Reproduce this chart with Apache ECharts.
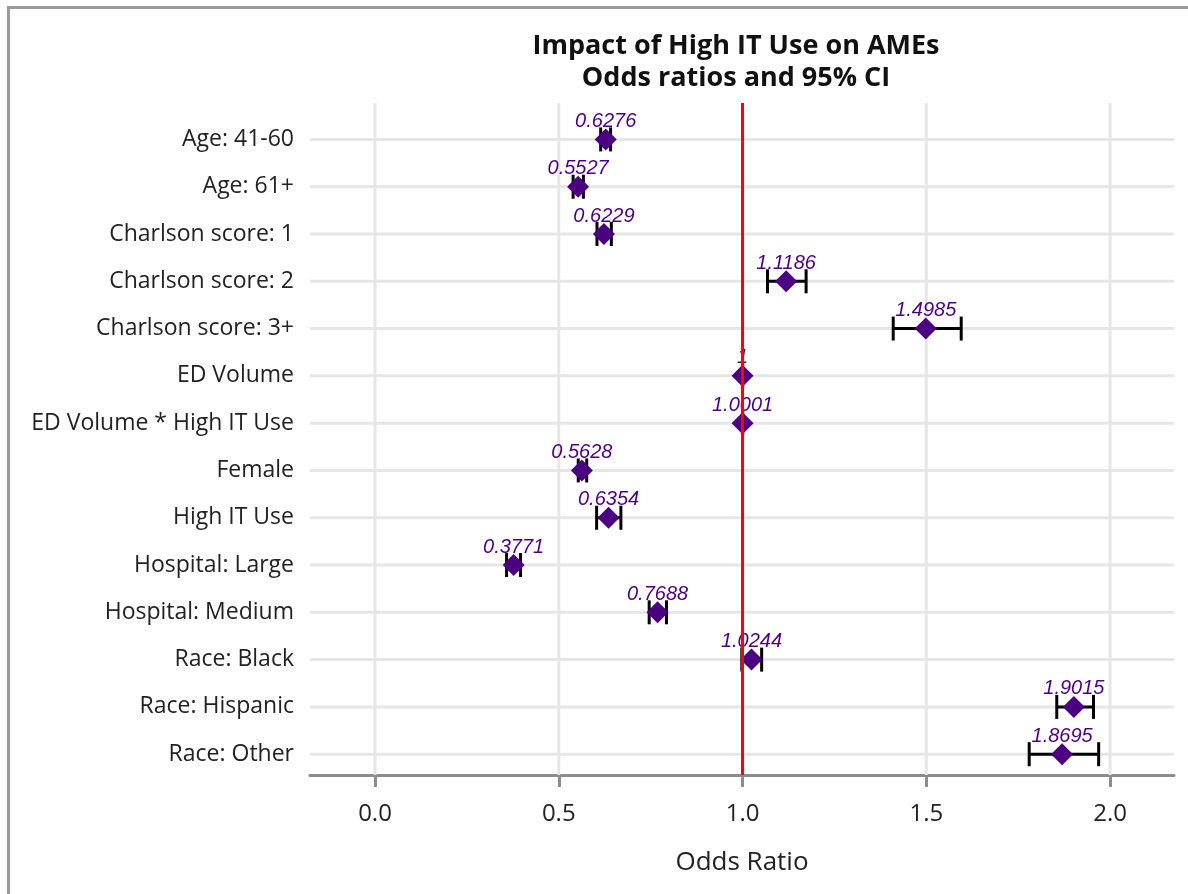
<!DOCTYPE html>
<html><head><meta charset="utf-8">
<script src="https://cdn.jsdelivr.net/npm/echarts@6/dist/echarts.min.js"></script>
<style>
html,body{margin:0;padding:0;background:#fff;overflow:hidden;}
#frame{position:absolute;left:7px;top:6px;width:1300px;height:1000px;border-left:3px solid #9a9a9a;border-top:3px solid #9a9a9a;box-sizing:border-box;}
#chart{position:absolute;left:0;top:0;width:1188px;height:894px;}
</style></head><body>
<div id="frame"></div>
<div id="chart"></div>
<script>
const categories = ['Age: 41-60','Age: 61+','Charlson score: 1','Charlson score: 2','Charlson score: 3+','ED Volume','ED Volume * High IT Use','Female','High IT Use','Hospital: Large','Hospital: Medium','Race: Black','Race: Hispanic','Race: Other'];
const oddsRatio = [0.6276,0.5527,0.6229,1.1186,1.4985,1,1.0001,0.5628,0.6354,0.3771,0.7688,1.0244,1.9015,1.8695];
const ciLower = [0.614,0.539,0.604,1.068,1.410,0.9995,0.9996,0.553,0.603,0.358,0.746,0.998,1.855,1.780];
const ciUpper = [0.641,0.567,0.643,1.173,1.595,1.0005,1.0006,0.576,0.669,0.396,0.793,1.052,1.955,1.969];
const xTicks = [0, 0.5, 1, 1.5, 2];
const refLine = [1];
const titleText = 'Impact of High IT Use on AMEs\nOdds ratios and 95% CI';

const rowIdx = categories.map((c, i) => i);
const FONT = '"Open Sans", sans-serif';

function vLine(color) {
  return function (params, api) {
    const cs = params.coordSys;
    const x = api.coord([api.value(0), 0])[0];
    return {type: 'line', shape: {x1: x, y1: cs.y, x2: x, y2: cs.y + cs.height},
      style: {stroke: color, lineWidth: 3}};
  };
}
function hLine(color) {
  return function (params, api) {
    const cs = params.coordSys;
    const y = api.coord([0, api.value(0)])[1];
    return {type: 'line', shape: {x1: cs.x, y1: y, x2: cs.x + cs.width, y2: y},
      style: {stroke: color, lineWidth: 3}};
  };
}

const chart = echarts.init(document.getElementById('chart'), null, {renderer: 'canvas'});
const option = {
  backgroundColor: 'transparent',
  animation: false,
  graphic: [{
    type: 'text', x: 736, y: 30, silent: true,
    style: {text: titleText, align: 'center', verticalAlign: 'top',
      fontFamily: FONT, fontSize: 27, fontWeight: 'bold', fill: '#111', lineHeight: 32}
  }],
  grid: {left: 310, right: 14, top: 103, bottom: 119, containLabel: false},
  xAxis: {
    type: 'value', min: -0.1769, max: 2.174,
    name: 'Odds Ratio', nameLocation: 'middle', nameGap: 75,
    nameTextStyle: {fontFamily: FONT, fontSize: 26, color: '#222'},
    axisLine: {show: true, onZero: false, lineStyle: {color: '#8c8c8c', width: 3}},
    axisTick: {show: true, length: 12, customValues: xTicks, lineStyle: {color: '#8c8c8c', width: 3}},
    axisLabel: {customValues: xTicks, margin: 27, fontFamily: FONT, fontSize: 24, color: '#222',
      formatter: v => v.toFixed(1)},
    splitLine: {show: false}
  },
  yAxis: {
    type: 'value', inverse: true, min: -0.77, max: 13.44,
    axisLine: {show: false, onZero: false}, axisTick: {show: false},
    axisLabel: {customValues: rowIdx, margin: 16, fontFamily: FONT, fontSize: 23, color: '#222',
      formatter: v => categories[Math.round(v)]},
    splitLine: {show: false}
  },
  series: [
    {
      name: 'vgrid', type: 'custom', z: 1, silent: true,
      data: xTicks.map(v => [v]), renderItem: vLine('#e6e6e6')
    },
    {
      name: 'hgrid', type: 'custom', z: 1, silent: true,
      data: rowIdx.map(i => [i]), renderItem: hLine('#e6e6e6')
    },
    {
      name: 'CI', type: 'custom', z: 3, silent: true,
      data: rowIdx.map(i => [ciLower[i], ciUpper[i], i]),
      renderItem: function (params, api) {
        const lo = api.coord([api.value(0), api.value(2)]);
        const hi = api.coord([api.value(1), api.value(2)]);
        const h = 12;
        const st = {stroke: '#000', lineWidth: 3};
        return {type: 'group', children: [
          {type: 'line', shape: {x1: lo[0], y1: lo[1], x2: hi[0], y2: hi[1]}, style: st},
          {type: 'line', shape: {x1: lo[0], y1: lo[1] - h, x2: lo[0], y2: lo[1] + h}, style: st},
          {type: 'line', shape: {x1: hi[0], y1: hi[1] - h, x2: hi[0], y2: hi[1] + h}, style: st}
        ]};
      }
    },
    {
      name: 'OR', type: 'scatter', z: 4, silent: true,
      symbol: 'diamond', symbolSize: [22, 22],
      itemStyle: {color: '#4B0082', opacity: 1},
      data: rowIdx.map(i => [oddsRatio[i], i]),
      label: {show: true, position: 'top', distance: -3,
        fontFamily: '"Liberation Sans", Arial, sans-serif', fontStyle: 'italic', fontSize: 20, color: '#4B0082',
        formatter: p => String(oddsRatio[p.dataIndex])}
    },
    {
      name: 'ref', type: 'custom', z: 6, silent: true,
      data: refLine.map(v => [v]), renderItem: vLine('#ff0000')
    }
  ]
};
chart.setOption(option);
</script>
</body></html>
